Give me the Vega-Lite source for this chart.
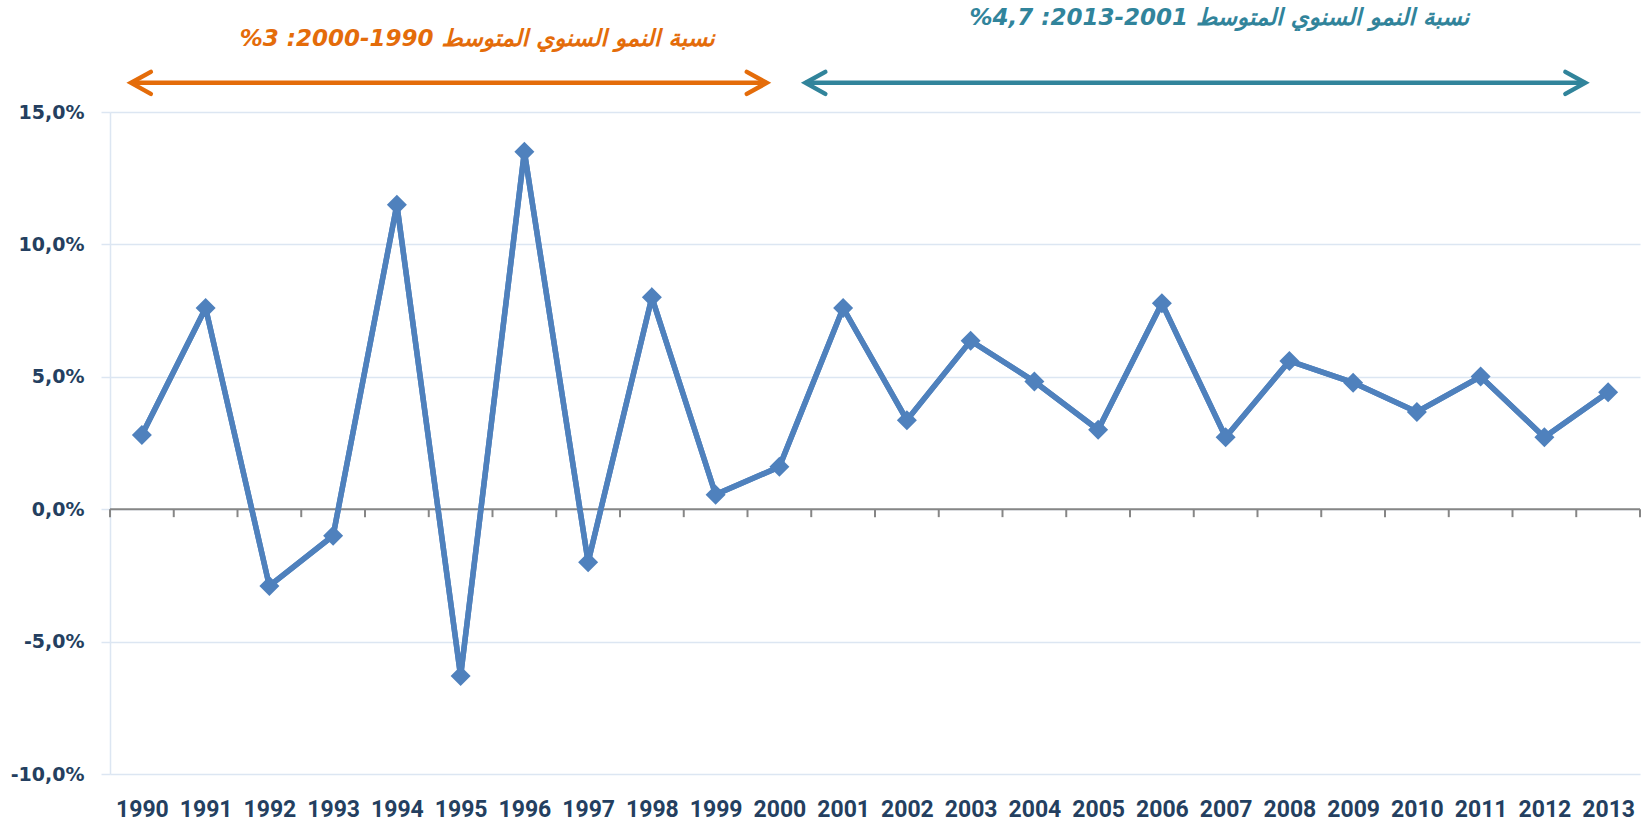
{
  "$schema": "https://vega.github.io/schema/vega-lite/v6.json",
  "width": 1530,
  "height": 662,
  "autosize": "none",
  "padding": {"left": 110, "top": 112, "right": 3, "bottom": 48},
  "background": "white",
  "config": {"view": {"stroke": null}},
  "datasets": {
    "growth": [
      {"year": 1990, "g": 0.028},
      {"year": 1991, "g": 0.076},
      {"year": 1992, "g": -0.029},
      {"year": 1993, "g": -0.010},
      {"year": 1994, "g": 0.115},
      {"year": 1995, "g": -0.063},
      {"year": 1996, "g": 0.135},
      {"year": 1997, "g": -0.020},
      {"year": 1998, "g": 0.080},
      {"year": 1999, "g": 0.0055},
      {"year": 2000, "g": 0.016},
      {"year": 2001, "g": 0.076},
      {"year": 2002, "g": 0.0336},
      {"year": 2003, "g": 0.0636},
      {"year": 2004, "g": 0.0482},
      {"year": 2005, "g": 0.030},
      {"year": 2006, "g": 0.0778},
      {"year": 2007, "g": 0.0272},
      {"year": 2008, "g": 0.056},
      {"year": 2009, "g": 0.0478},
      {"year": 2010, "g": 0.0367},
      {"year": 2011, "g": 0.0501},
      {"year": 2012, "g": 0.0272},
      {"year": 2013, "g": 0.0442}
    ],
    "ticks": [
      {"b": 1989.5}, {"b": 1990.5}, {"b": 1991.5}, {"b": 1992.5}, {"b": 1993.5},
      {"b": 1994.5}, {"b": 1995.5}, {"b": 1996.5}, {"b": 1997.5}, {"b": 1998.5},
      {"b": 1999.5}, {"b": 2000.5}, {"b": 2001.5}, {"b": 2002.5}, {"b": 2003.5},
      {"b": 2004.5}, {"b": 2005.5}, {"b": 2006.5}, {"b": 2007.5}, {"b": 2008.5},
      {"b": 2009.5}, {"b": 2010.5}, {"b": 2011.5}, {"b": 2012.5}, {"b": 2013.5}
    ],
    "arrows": [
      {"grp": "1990-2000", "x1": 1989.83, "x2": 1999.8, "y": 0.161},
      {"grp": "2001-2013", "x1": 2000.41, "x2": 2012.64, "y": 0.161}
    ],
    "heads": [
      {"grp": "1990-2000", "x": 1989.83, "y": 0.161, "end": "start"},
      {"grp": "1990-2000", "x": 1999.8, "y": 0.161, "end": "end"},
      {"grp": "2001-2013", "x": 2000.41, "y": 0.161, "end": "start"},
      {"grp": "2001-2013", "x": 2012.64, "y": 0.161, "end": "end"}
    ],
    "labels": [
      {"grp": "1990-2000", "x": 1995.26, "y": 0.1776, "text": "‫نسبة النمو السنوي المتوسط 1990-2000: 3%‬"},
      {"grp": "2001-2013", "x": 2006.9, "y": 0.1855, "text": "‫نسبة النمو السنوي المتوسط 2001-2013: 4,7%‬"}
    ]
  },
  "layer": [
    {
      "data": {"name": "growth"},
      "mark": {"type": "line", "color": "#4f81bd", "strokeWidth": 5.5},
      "encoding": {
        "x": {
          "field": "year", "type": "quantitative", "title": null,
          "scale": {"domain": [1989.5, 2013.5], "nice": false, "zero": false},
          "axis": {
            "orient": "bottom",
            "values": [1990,1991,1992,1993,1994,1995,1996,1997,1998,1999,2000,2001,2002,2003,2004,2005,2006,2007,2008,2009,2010,2011,2012,2013],
            "format": "d", "grid": false, "domain": false, "ticks": false,
            "labelFont": "Roboto", "labelFontWeight": "bold", "labelFontSize": 23,
            "labelColor": "#243f60", "labelPadding": 24, "labelFlush": false, "labelOverlap": false
          }
        },
        "y": {
          "field": "g", "type": "quantitative", "title": null,
          "scale": {"domain": [-0.1, 0.15], "nice": false, "zero": false},
          "axis": {
            "values": [-0.1, -0.05, 0, 0.05, 0.1, 0.15],
            "labelExpr": "replace(replace(format(datum.value, '.1%'), '.', ','), '\u2212', '-')",
            "grid": true, "gridColor": "#dce6f2", "gridWidth": 1.5,
            "domain": true, "domainColor": "#dce6f2", "domainWidth": 1.5,
            "ticks": true, "tickColor": "#dce6f2", "tickWidth": 1.5, "tickSize": 9,
            "labelFont": "DejaVu Sans", "labelFontWeight": "bold", "labelFontSize": 19,
            "labelColor": "#243f60", "labelPadding": 17, "labelFlush": false
          }
        }
      }
    },
    {
      "data": {"values": [{}]},
      "mark": {"type": "rule", "color": "#868686", "strokeWidth": 2},
      "encoding": {"y": {"datum": 0, "type": "quantitative"}}
    },
    {
      "data": {"name": "ticks"},
      "mark": {"type": "rule", "color": "#868686", "strokeWidth": 2},
      "encoding": {
        "x": {"field": "b", "type": "quantitative", "title": null},
        "y": {"datum": 0, "type": "quantitative"},
        "y2": {"datum": -0.003}
      }
    },
    {
      "data": {"name": "growth"},
      "mark": {"type": "line", "color": "#4f81bd", "strokeWidth": 5.5},
      "encoding": {
        "x": {"field": "year", "type": "quantitative", "title": null},
        "y": {"field": "g", "type": "quantitative", "title": null}
      }
    },
    {
      "data": {"name": "growth"},
      "mark": {"type": "point", "shape": "diamond", "filled": true, "size": 400, "color": "#4f81bd", "opacity": 1},
      "encoding": {
        "x": {"field": "year", "type": "quantitative", "title": null},
        "y": {"field": "g", "type": "quantitative", "title": null}
      }
    },
    {
      "data": {"name": "arrows"},
      "mark": {"type": "rule", "strokeWidth": 4.5},
      "encoding": {
        "x": {"field": "x1", "type": "quantitative", "title": null},
        "x2": {"field": "x2"},
        "y": {"field": "y", "type": "quantitative", "title": null},
        "color": {"field": "grp", "type": "nominal", "legend": null,
          "scale": {"domain": ["1990-2000", "2001-2013"], "range": ["#e46c0a", "#31849b"]}}
      }
    },
    {
      "data": {"name": "heads"},
      "mark": {"type": "point", "filled": false, "size": 484, "strokeWidth": 4.5, "opacity": 1, "strokeCap": "round", "strokeJoin": "miter"},
      "encoding": {
        "x": {"field": "x", "type": "quantitative", "title": null},
        "y": {"field": "y", "type": "quantitative", "title": null},
        "shape": {"field": "end", "type": "nominal", "legend": null,
          "scale": {"domain": ["start", "end"], "range": ["M1.8,-1L0,0L1.8,1", "M-1.8,-1L0,0L-1.8,1"]}},
        "color": {"field": "grp", "type": "nominal", "legend": null,
          "scale": {"domain": ["1990-2000", "2001-2013"], "range": ["#e46c0a", "#31849b"]}}
      }
    },
    {
      "data": {"name": "labels"},
      "mark": {"type": "text", "font": "DejaVu Sans", "fontStyle": "italic", "fontWeight": "bold", "fontSize": 23, "align": "center", "baseline": "middle"},
      "encoding": {
        "x": {"field": "x", "type": "quantitative", "title": null},
        "y": {"field": "y", "type": "quantitative", "title": null},
        "text": {"field": "text"},
        "color": {"field": "grp", "type": "nominal", "legend": null,
          "scale": {"domain": ["1990-2000", "2001-2013"], "range": ["#e46c0a", "#31849b"]}}
      }
    }
  ]
}
